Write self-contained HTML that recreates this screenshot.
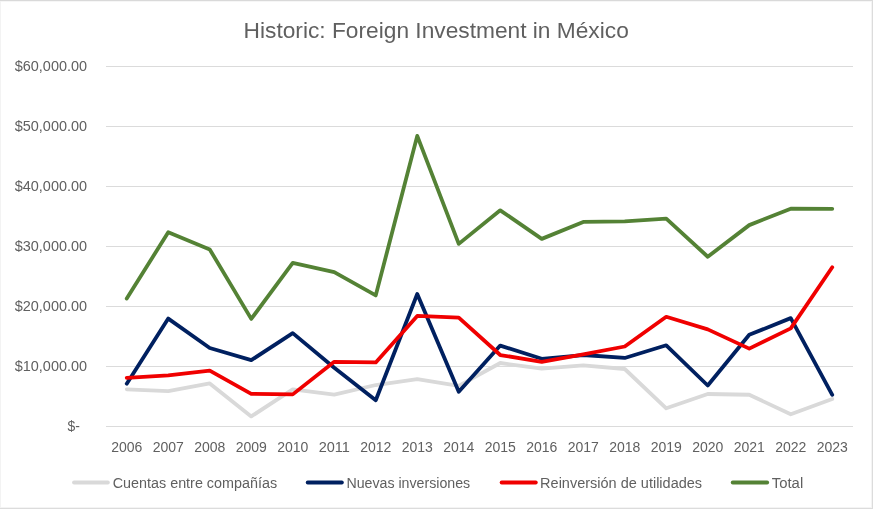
<!DOCTYPE html>
<html><head><meta charset="utf-8"><title>Historic: Foreign Investment in México</title>
<style>
html,body{margin:0;padding:0;background:#fff;}
body{width:873px;height:510px;overflow:hidden;}
svg{display:block;will-change:transform;}
text{font-family:"Liberation Sans",sans-serif;fill:#606060;}
.ln{fill:none;stroke-linejoin:round;stroke-linecap:round;}
</style></head><body>
<svg width="873" height="510" viewBox="0 0 873 510">
<rect x="0" y="1" width="873" height="1" fill="#f6f6f6"/>
<rect x="871" y="0" width="1" height="509" fill="#f4f4f4"/>
<rect x="0" y="507" width="873" height="1" fill="#f4f4f4"/>
<rect x="0" y="0" width="1" height="509" fill="#f3f3f3"/>
<rect x="0" y="0" width="873" height="1" fill="#d9d9d9"/>
<rect x="872" y="0" width="1" height="509" fill="#dcdcdc"/>
<rect x="0" y="508" width="873" height="1" fill="#dcdcdc"/>
<rect x="106" y="66" width="747" height="1" fill="#dbdbdb"/>
<rect x="106" y="126" width="747" height="1" fill="#dbdbdb"/>
<rect x="106" y="186" width="747" height="1" fill="#dbdbdb"/>
<rect x="106" y="246" width="747" height="1" fill="#dbdbdb"/>
<rect x="106" y="306" width="747" height="1" fill="#dbdbdb"/>
<rect x="106" y="366" width="747" height="1" fill="#dbdbdb"/>
<rect x="106" y="426" width="747" height="1" fill="#dbdbdb"/>
<text x="243.6" y="37.7" font-size="22.5" textLength="385.2" lengthAdjust="spacingAndGlyphs">Historic: Foreign Investment in México</text>
<text x="14.7" y="71.2" font-size="14" textLength="72.4" lengthAdjust="spacingAndGlyphs">$60,000.00</text>
<text x="14.7" y="131.2" font-size="14" textLength="72.4" lengthAdjust="spacingAndGlyphs">$50,000.00</text>
<text x="14.7" y="191.2" font-size="14" textLength="72.4" lengthAdjust="spacingAndGlyphs">$40,000.00</text>
<text x="14.7" y="251.2" font-size="14" textLength="72.4" lengthAdjust="spacingAndGlyphs">$30,000.00</text>
<text x="14.7" y="311.2" font-size="14" textLength="72.4" lengthAdjust="spacingAndGlyphs">$20,000.00</text>
<text x="14.7" y="371.2" font-size="14" textLength="72.4" lengthAdjust="spacingAndGlyphs">$10,000.00</text>
<text x="67.6" y="431.2" font-size="14" textLength="12.4" lengthAdjust="spacingAndGlyphs">$-</text>
<text x="111.15" y="451.5" font-size="14" textLength="31.2" lengthAdjust="spacingAndGlyphs">2006</text>
<text x="152.65" y="451.5" font-size="14" textLength="31.2" lengthAdjust="spacingAndGlyphs">2007</text>
<text x="194.15" y="451.5" font-size="14" textLength="31.2" lengthAdjust="spacingAndGlyphs">2008</text>
<text x="235.65" y="451.5" font-size="14" textLength="31.2" lengthAdjust="spacingAndGlyphs">2009</text>
<text x="277.15" y="451.5" font-size="14" textLength="31.2" lengthAdjust="spacingAndGlyphs">2010</text>
<text x="318.65" y="451.5" font-size="14" textLength="31.2" lengthAdjust="spacingAndGlyphs">2011</text>
<text x="360.15" y="451.5" font-size="14" textLength="31.2" lengthAdjust="spacingAndGlyphs">2012</text>
<text x="401.65" y="451.5" font-size="14" textLength="31.2" lengthAdjust="spacingAndGlyphs">2013</text>
<text x="443.15" y="451.5" font-size="14" textLength="31.2" lengthAdjust="spacingAndGlyphs">2014</text>
<text x="484.65" y="451.5" font-size="14" textLength="31.2" lengthAdjust="spacingAndGlyphs">2015</text>
<text x="526.15" y="451.5" font-size="14" textLength="31.2" lengthAdjust="spacingAndGlyphs">2016</text>
<text x="567.65" y="451.5" font-size="14" textLength="31.2" lengthAdjust="spacingAndGlyphs">2017</text>
<text x="609.15" y="451.5" font-size="14" textLength="31.2" lengthAdjust="spacingAndGlyphs">2018</text>
<text x="650.65" y="451.5" font-size="14" textLength="31.2" lengthAdjust="spacingAndGlyphs">2019</text>
<text x="692.15" y="451.5" font-size="14" textLength="31.2" lengthAdjust="spacingAndGlyphs">2020</text>
<text x="733.65" y="451.5" font-size="14" textLength="31.2" lengthAdjust="spacingAndGlyphs">2021</text>
<text x="775.15" y="451.5" font-size="14" textLength="31.2" lengthAdjust="spacingAndGlyphs">2022</text>
<text x="816.65" y="451.5" font-size="14" textLength="31.2" lengthAdjust="spacingAndGlyphs">2023</text>
<polyline class="ln" stroke="#d9d9d9" stroke-width="3.8" points="126.75,389.28 168.25,391.08 209.75,383.40 251.25,416.40 292.75,389.40 334.25,394.68 375.75,385.02 417.25,379.14 458.75,385.92 500.25,363.00 541.75,368.70 583.25,365.28 624.75,369.00 666.25,408.30 707.75,394.02 749.25,394.74 790.75,414.30 832.25,399.00"/>
<polyline class="ln" stroke="#002060" stroke-width="3.8" points="126.75,383.70 168.25,318.60 209.75,348.00 251.25,360.18 292.75,333.12 334.25,367.80 375.75,400.20 417.25,294.00 458.75,391.68 500.25,345.60 541.75,358.80 583.25,355.02 624.75,357.96 666.25,345.30 707.75,385.50 749.25,334.80 790.75,318.12 832.25,394.80"/>
<polyline class="ln" stroke="#f00000" stroke-width="3.8" points="126.75,377.82 168.25,375.30 209.75,370.68 251.25,393.90 292.75,394.38 334.25,361.80 375.75,362.40 417.25,315.90 458.75,317.64 500.25,355.02 541.75,361.80 583.25,354.42 624.75,346.50 666.25,316.80 707.75,329.40 749.25,348.60 790.75,328.38 832.25,267.30"/>
<polyline class="ln" stroke="#548235" stroke-width="3.8" points="126.75,298.60 168.25,232.20 209.75,249.42 251.25,318.90 292.75,262.87 334.25,272.21 375.75,295.39 417.25,135.88 458.75,243.89 500.25,210.34 541.75,238.87 583.25,221.90 624.75,221.40 666.25,218.54 707.75,256.76 749.25,225.12 790.75,208.71 832.25,208.80"/>
<line class="ln" x1="74.0" y1="482.5" x2="107.9" y2="482.5" stroke="#d9d9d9" stroke-width="3.8"/>
<text x="112.7" y="487.8" font-size="14" textLength="164.4" lengthAdjust="spacingAndGlyphs">Cuentas entre compañías</text>
<line class="ln" x1="307.7" y1="482.5" x2="341.9" y2="482.5" stroke="#002060" stroke-width="3.8"/>
<text x="346.4" y="487.8" font-size="14" textLength="123.8" lengthAdjust="spacingAndGlyphs">Nuevas inversiones</text>
<line class="ln" x1="501.6" y1="482.5" x2="535.8" y2="482.5" stroke="#f00000" stroke-width="3.8"/>
<text x="540.1" y="487.8" font-size="14" textLength="162.0" lengthAdjust="spacingAndGlyphs">Reinversión de utilidades</text>
<line class="ln" x1="732.7" y1="482.5" x2="767.2" y2="482.5" stroke="#548235" stroke-width="3.8"/>
<text x="771.8" y="487.8" font-size="14" textLength="31.4" lengthAdjust="spacingAndGlyphs">Total</text>
</svg>
</body></html>
